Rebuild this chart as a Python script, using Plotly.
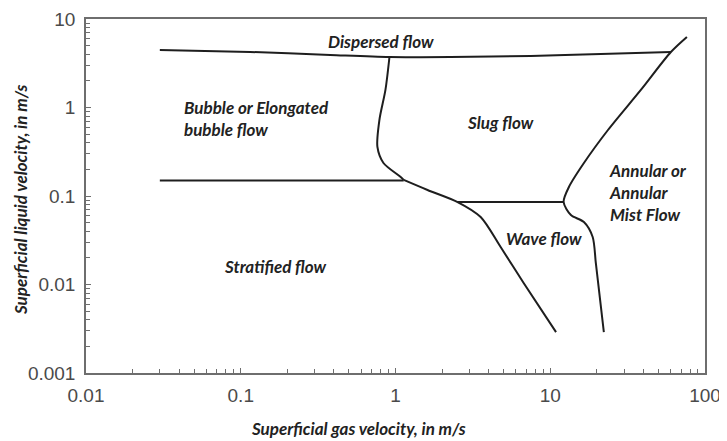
import plotly.graph_objects as go

# Boundary curves (superficial gas velocity, superficial liquid velocity), m/s
top_x = [0.030, 0.115, 0.379, 0.914, 2.27, 7.48, 21.2, 60.2]
top_y = [4.46, 4.24, 3.92, 3.72, 3.72, 3.82, 4.03, 4.24]

bubble_slug_x = [0.914, 0.861, 0.787, 0.764, 0.836, 1.08, 1.13]
bubble_slug_y = [3.72, 1.58, 0.722, 0.358, 0.236, 0.164, 0.152]

strat_x = [0.030, 1.13]
strat_y = [0.15, 0.15]

wave_x = [1.13, 1.61, 2.52, 3.55, 4.78, 6.73, 10.9]
wave_y = [0.152, 0.117, 0.0855, 0.0579, 0.0265, 0.0104, 0.0029]

slugwave_x = [2.52, 12.2]
slugwave_y = [0.0855, 0.0855]

annular_x = [76.4, 60.2, 38.5, 23.6, 16.5, 13.2, 12.2, 13.6, 16.5, 18.8, 19.7, 20.9, 22.2]
annular_y = [6.27, 4.24, 1.58, 0.557, 0.236, 0.1265, 0.0855, 0.061, 0.0508, 0.0344, 0.0175, 0.00722, 0.0029]

# Region labels (log10 positions)
labels = ["Dispersed flow", "Bubble or Elongated<br>bubble flow", "Slug flow",
          "Annular or<br>Annular<br>Mist Flow", "Wave flow", "Stratified flow"]
label_lx = [-0.091, -1.379, 0.680, 1.366, 0.958, -0.777]
label_ly = [0.745, -0.119, -0.175, -0.955, -1.475, -1.791]
label_anchor = ["center", "left", "center", "left", "center", "center"]

x_ticks = [0.01, 0.1, 1, 10, 100]
x_ticklabels = ["0.01", "0.1", "1", "10", "100"]
y_ticks = [0.001, 0.01, 0.1, 1, 10]
y_ticklabels = ["0.001", "0.01", "0.1", "1", "10"]
x_title = "Superficial gas velocity, in m/s"
y_title = "Superficial liquid velocity, in m/s"

LINE = dict(color="#1e1e1e", width=2)
fig = go.Figure()
for xs, ys, shape in [(top_x, top_y, "spline"), (bubble_slug_x, bubble_slug_y, "spline"),
                      (strat_x, strat_y, "linear"), (wave_x, wave_y, "spline"),
                      (slugwave_x, slugwave_y, "linear"), (annular_x, annular_y, "spline")]:
    fig.add_trace(go.Scatter(x=xs, y=ys, mode="lines", line=dict(shape=shape, smoothing=0.8, **LINE),
                             showlegend=False, hoverinfo="skip"))

lab_font = dict(family="Lato", size=17, color="#222", weight="bold", style="italic")
for t, lx, ly, a in zip(labels, label_lx, label_ly, label_anchor):
    fig.add_annotation(x=lx, y=ly, xref="x", yref="y", text=t, showarrow=False,
                       xanchor=a, yanchor="middle", align="left", font=lab_font)

title_font = dict(family="Lato", size=17, color="#222", weight="bold", style="italic")
fig.add_annotation(x=0, y=0, xref="paper", yref="paper", xshift=272, yshift=-55,
                   text=x_title, showarrow=False, xanchor="center", yanchor="middle", font=title_font)
fig.add_annotation(x=0, y=0.5, xref="paper", yref="paper", xshift=-66, yshift=-4,
                   text=y_title, showarrow=False, textangle=-90,
                   xanchor="center", yanchor="middle", font=title_font)

axis_common = dict(type="log", showgrid=False, zeroline=False, showline=True, automargin=False,
                   linecolor="#6e6e6e", linewidth=1.5, mirror=True,
                   ticks="inside", ticklen=5, tickcolor="#6e6e6e", tickwidth=1,
                   tickfont=dict(family="Liberation Sans", size=19, color="#4a4a4a"),
                   minor=dict(ticks="inside", ticklen=4, tickcolor="#6e6e6e", dtick="D1", showgrid=False))

fig.update_xaxes(range=[-2, 2], tickvals=x_ticks, ticktext=x_ticklabels, ticklabelstandoff=4,
                 **axis_common)
fig.update_yaxes(range=[-3, 1], tickvals=y_ticks, ticktext=y_ticklabels, ticklabelstandoff=5,
                 **axis_common)

fig.update_layout(width=719, height=433, margin=dict(l=78, r=22, t=11, b=68),
                  paper_bgcolor="white", plot_bgcolor="white")
fig.write_html("out.html")
